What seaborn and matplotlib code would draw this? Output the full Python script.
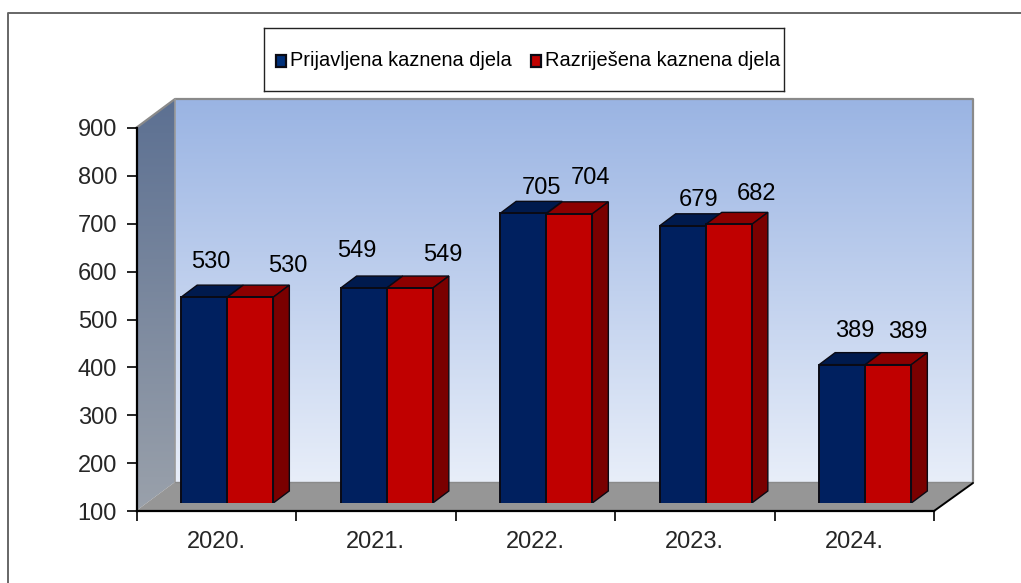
import numpy as np
import pandas as pd
import seaborn as sns
import matplotlib.pyplot as plt
from matplotlib.patches import Polygon, Rectangle
from matplotlib.colors import LinearSegmentedColormap

# chart values
years = ["2020.", "2021.", "2022.", "2023.", "2024."]
reported = [530, 549, 705, 679, 389]
solved = [530, 549, 704, 682, 389]
series_names = ["Prijavljena kaznena djela", "Razriješena kaznena djela"]
y_ticks = [100, 200, 300, 400, 500, 600, 700, 800, 900]

# label nudges in pixels from the top centre of each bar, the source has them hand placed
reported_nudge = [(7, 35), (-7, 37), (18, 25), (16, 26), (13, 34)]
solved_nudge = [(37, 31), (33, 33), (21, 36), (28, 30), (19, 33)]

W, H = 1021, 583
sns.set_style("white")
plt.rcParams["font.family"] = ["Liberation Sans", "DejaVu Sans"]

fig = plt.figure(figsize=(W / 100, H / 100), dpi=100)


def px_axes(left, top, right, bottom):
    return fig.add_axes([left / W, 1 - bottom / H, (right - left) / W, (bottom - top) / H])


# background, works in pixel coords
bg = fig.add_axes([0, 0, 1, 1])
bg.set_xlim(0, W)
bg.set_ylim(H, 0)
bg.axis("off")

bg.plot([8, 8, W], [H, 13, 13], color="#666666", lw=1.4, solid_capstyle="butt")

wall_cmap = LinearSegmentedColormap.from_list("wall", ["#9ab4e3", "#e8eef9"])
side_cmap = LinearSegmentedColormap.from_list("side", ["#5c7092", "#9aa1ab"])
grad = np.linspace(0, 1, 256).reshape(-1, 1)

bg.imshow(grad, cmap=wall_cmap, extent=(175, 973, 483, 99), aspect="auto", zorder=1)
im = bg.imshow(grad, cmap=side_cmap, extent=(136, 175, 511, 99), aspect="auto", zorder=1)
im.set_clip_path(Polygon([(136, 128), (175, 99), (175, 482), (136, 511)], transform=bg.transData))
bg.set_xlim(0, W)
bg.set_ylim(H, 0)

bg.add_patch(Polygon([(136, 511), (175, 482), (973, 482), (934, 511)], fc="#969696", ec="none", zorder=2))
bg.plot([136, 175, 973, 973], [128, 99, 99, 482], color="#8a8a8a", lw=1.6, zorder=3)
bg.plot([175, 175], [99, 482], color="#9a9a9a", lw=1.2, zorder=3)
bg.plot([175, 973], [482, 482], color="#8a8a8a", lw=1, zorder=3)
bg.plot([934, 973], [511, 483], color="black", lw=1.4, zorder=3)

# axes in the front plane, only ticks and spines
ax = px_axes(136.5, 128, 934, 511)
ax.patch.set_alpha(0)
ax.set_xlim(-0.5, 4.5)
ax.set_ylim(100, 900)
ax.set_yticks(y_ticks)
ax.set_xticks(np.arange(-0.5, 5), labels=[])
ax.set_xticks(np.arange(5), labels=years, minor=True)
ax.tick_params(axis="y", length=7, width=1.2, labelsize=17, pad=7, left=True, color="black")
ax.tick_params(axis="x", which="major", length=7, width=1.2, bottom=True, color="black")
ax.tick_params(axis="x", which="minor", length=0, labelsize=17, pad=14.5)
for s in ["top", "right"]:
    ax.spines[s].set_visible(False)
for s in ["left", "bottom"]:
    ax.spines[s].set_linewidth(1.6)
    ax.spines[s].set_color("black")

# bars live a bit back from the front plane
bar_ax = px_axes(136.5 + 11, 128 - 8, 934 + 11, 511 - 8)
bar_ax.patch.set_alpha(0)

df = pd.DataFrame({
    "year": years * 2,
    "value": reported + solved,
    "series": [series_names[0]] * 5 + [series_names[1]] * 5,
})
palette = {series_names[0]: "#00205f", series_names[1]: "#c00000"}
sns.barplot(data=df, x="year", y="value", hue="series", palette=palette, width=0.578, gap=0,
            edgecolor="#0a0a14", linewidth=1.4, saturation=1, legend=False, ax=bar_ax, zorder=4)
bar_ax.set_xlim(-0.5, 4.5)
bar_ax.set_ylim(100, 900)
bar_ax.axis("off")

dx = 16 / 159.5
dy = 12 / 47.875 * 100
n = len(years)
top_cols = ["#001a4d", "#8c0000"]
side_col = "#7a0000"
for i, bar in enumerate(bar_ax.patches[:2 * n]):
    x0, w, h = bar.get_x(), bar.get_width(), bar.get_height()
    k = i // n
    bar_ax.add_patch(Polygon([(x0, h), (x0 + dx, h + dy), (x0 + w + dx, h + dy), (x0 + w, h)],
                             fc=top_cols[k], ec="#0a0a14", lw=1, zorder=3))
    if k == 1:
        bar_ax.add_patch(Polygon([(x0 + w, 100), (x0 + w + dx, 100 + dy), (x0 + w + dx, h + dy), (x0 + w, h)],
                                 fc=side_col, ec="#0a0a14", lw=1, zorder=3))

    nudge = (reported_nudge if k == 0 else solved_nudge)[i % n]
    value = (reported if k == 0 else solved)[i % n]
    bar_ax.annotate(str(value), (x0 + w / 2, h), xytext=nudge, textcoords="offset pixels",
                    ha="center", va="center", fontsize=17, color="black", zorder=6,
                    annotation_clip=False)

# legend box
leg = px_axes(264, 28, 784, 91)
leg.set_xlim(264, 784)
leg.set_ylim(91, 28)
leg.set_xticks([])
leg.set_yticks([])
for s in leg.spines.values():
    s.set_visible(True)
    s.set_color("#222222")
    s.set_linewidth(1)
leg.add_patch(Rectangle((276, 55), 10, 12, fc="#00307a", ec="#0a0a14", lw=1.6))
leg.add_patch(Rectangle((531, 55), 10, 12, fc="#c00000", ec="#0a0a14", lw=1.6))
leg.text(290, 61, series_names[0], fontsize=14.4, va="center", ha="left", color="black")
leg.text(545, 61, series_names[1], fontsize=14.4, va="center", ha="left", color="black")

fig.savefig("out.png", dpi=100)
